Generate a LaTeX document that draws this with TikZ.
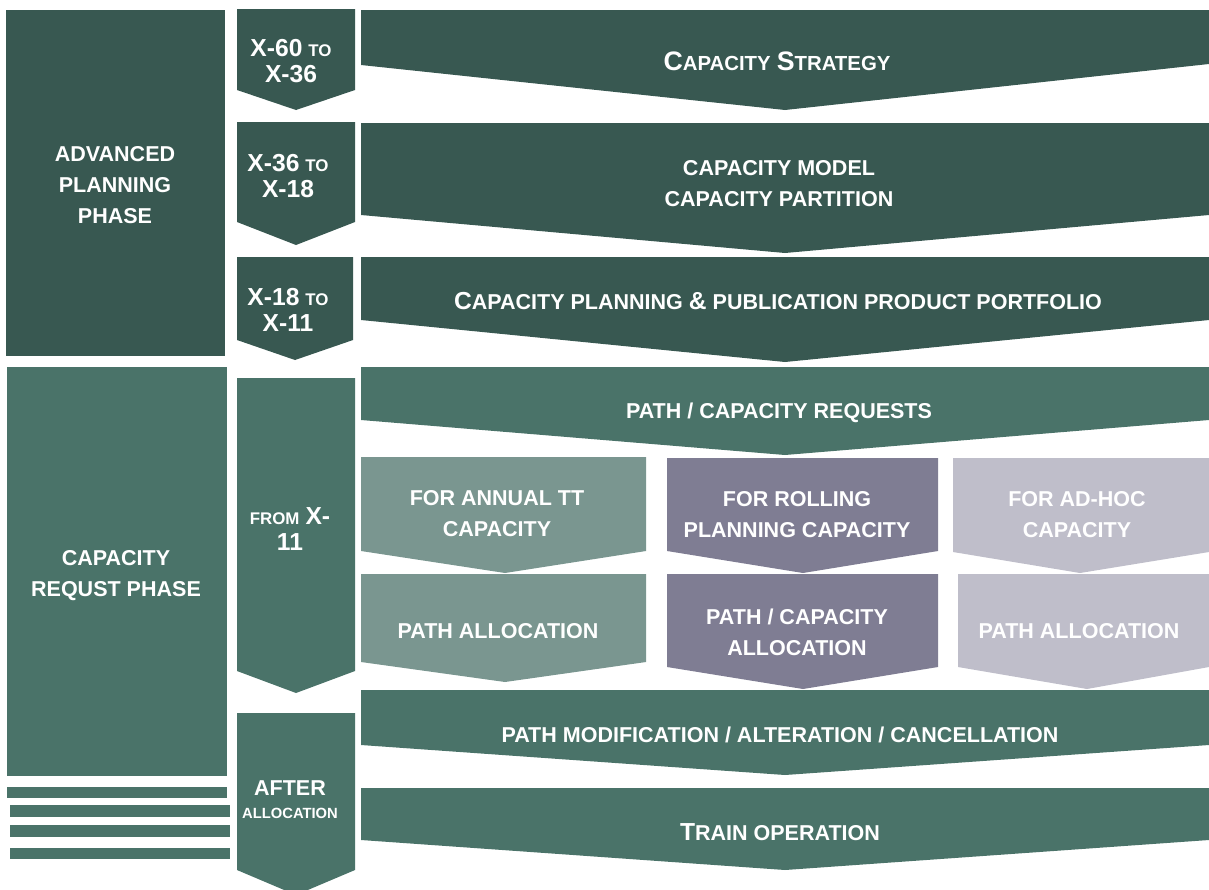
\documentclass[tikz,border=0pt]{standalone}
\usepackage{fontspec}
\setmainfont{Liberation Sans}
\definecolor{dkgreen}{HTML}{385851}
\definecolor{midgreen}{HTML}{4A7369}
\definecolor{ltgreen}{HTML}{7A9690}
\definecolor{purplegray}{HTML}{7F7D93}
\definecolor{ltgray}{HTML}{BFBECA}
\newcommand\smc[1]{{\fontsize{12}{20}\selectfont #1}}
\newcommand\bigc[1]{{\fontsize{17.5}{20}\selectfont #1}}
\begin{document}
\begin{tikzpicture}[x=0.025cm,y=-0.025cm]
\tikzset{lbl/.style={text=white, font=\fontsize{15.3}{22}\selectfont\bfseries, align=center, inner sep=0pt},
  frame/.style={lbl, font=\fontsize{15.3}{18.4}\selectfont\bfseries}}
\useasboundingbox (0,0) rectangle (1209,889);
% left column
\fill[dkgreen] (6,10) rectangle (225,356);
\node[lbl] (advanced) at (115,185){ADVANCED\\PLANNING\\PHASE};
\fill[midgreen] (7,367) rectangle (227,776);
\node[lbl] (request) at (116,576){CAPACITY\\REQUST PHASE};
\fill[midgreen] (7,787) rectangle (227,798);
\fill[midgreen] (10,805) rectangle (230,817);
\fill[midgreen] (10,825) rectangle (230,837);
\fill[midgreen] (10,848) rectangle (230,859);
% time frames
\fill[dkgreen] (237,9) -- (355,9) -- (355,90) -- (296,110) -- (237,90) -- cycle;
\node[frame] (t1) at (291,61){\bigc{X-60} \smc{TO}\\\bigc{X-36}};
\fill[dkgreen] (237,122) -- (355,122) -- (355,222) -- (296,245) -- (237,222) -- cycle;
\node[frame] (t2) at (288,176){\bigc{X-36} \smc{TO}\\\bigc{X-18}};
\fill[dkgreen] (237,257) -- (353,257) -- (353,340) -- (295,360) -- (237,340) -- cycle;
\node[frame] (t3) at (288,310){\bigc{X-18} \smc{TO}\\\bigc{X-11}};
\fill[midgreen] (237,378) -- (355,378) -- (355,671) -- (296,693) -- (237,671) -- cycle;
\node[frame] (t4) at (290,529){\smc{FROM} \bigc{X-}\\\bigc{11}};
\fill[midgreen] (237,713) -- (355,713) -- (355,870) -- (296,895) -- (237,870) -- cycle;
\node[lbl, font=\fontsize{15.3}{16.3}\selectfont\bfseries] (t5) at (290,800){AFTER\\{\fontsize{10.5}{16}\selectfont ALLOCATION}};
% process steps
\fill[dkgreen] (361,10) -- (1209,10) -- (1209,64) -- (785,110) -- (361,65) -- cycle;
\node[lbl] (strategy) at (777,61){{\fontsize{19}{20}\selectfont C}{\fontsize{14.5}{20}\selectfont APACITY} {\fontsize{19}{20}\selectfont S}{\fontsize{14.5}{20}\selectfont TRATEGY}};
\fill[dkgreen] (361,123) -- (1209,123) -- (1209,215) -- (785,253) -- (361,215) -- cycle;
\node[lbl] (model) at (779,184){CAPACITY MODEL\\CAPACITY PARTITION};
\fill[dkgreen] (361,257) -- (1209,257) -- (1209,320) -- (785,362) -- (361,320) -- cycle;
\node[lbl] (planning) at (778,301){\bigc{C}APACITY PLANNING \bigc{\&} PUBLICATION PRODUCT PORTFOLIO};
\fill[midgreen] (361,367) -- (1209,367) -- (1209,420) -- (785,455) -- (361,420) -- cycle;
\node[lbl] (requests) at (779,413){PATH / CAPACITY REQUESTS};
\fill[ltgreen] (361,457) -- (646,457) -- (646,551) -- (505,573) -- (361,551) -- cycle;
\node[lbl] (annual) at (497,514){FOR ANNUAL TT\\CAPACITY};
\fill[ltgreen] (361,574) -- (646,574) -- (646,662) -- (505,682) -- (361,662) -- cycle;
\node[lbl] (annualalloc) at (498,631){PATH ALLOCATION};
\fill[purplegray] (667,458) -- (938,458) -- (938,551) -- (803,573) -- (667,551) -- cycle;
\node[lbl] (rolling) at (797,515){FOR ROLLING\\PLANNING CAPACITY};
\fill[purplegray] (667,574) -- (938,574) -- (938,667) -- (803,689) -- (667,667) -- cycle;
\node[lbl] (rollingalloc) at (797,632){PATH / CAPACITY\\ALLOCATION};
\fill[ltgray] (953,458) -- (1209,458) -- (1209,552) -- (1080,573) -- (953,552) -- cycle;
\node[lbl] (adhoc) at (1077,515){FOR AD-HOC\\CAPACITY};
\fill[ltgray] (958,574) -- (1209,574) -- (1209,667) -- (1087,689) -- (958,667) -- cycle;
\node[lbl] (adhocalloc) at (1079,631){PATH ALLOCATION};
\fill[midgreen] (361,690) -- (1209,690) -- (1209,745) -- (785,775) -- (361,745) -- cycle;
\node[lbl] (modification) at (780,735){PATH MODIFICATION / ALTERATION / CANCELLATION};
\fill[midgreen] (361,788) -- (1209,788) -- (1209,840) -- (785,870) -- (361,840) -- cycle;
\node[lbl] (operation) at (780,832){\bigc{T}RAIN OPERATION};
\end{tikzpicture}
\end{document}
